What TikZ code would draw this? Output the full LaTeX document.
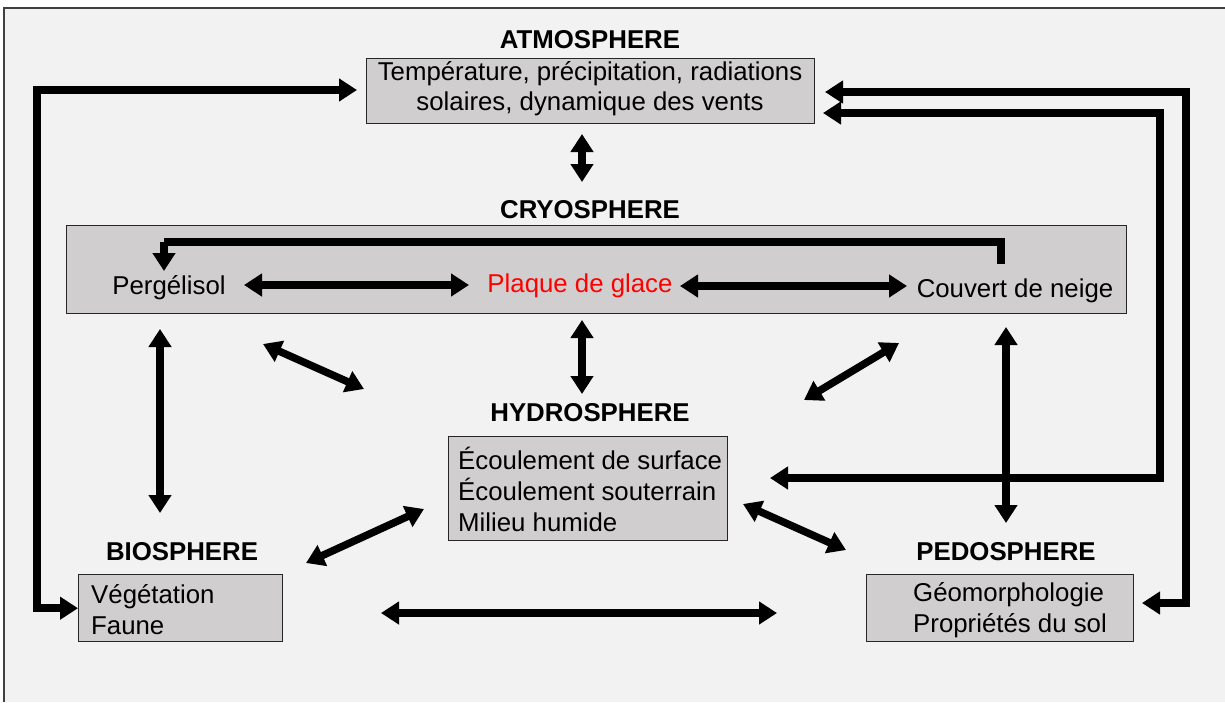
\documentclass[tikz,border=0pt]{standalone}
\usepackage{fontspec}
\setmainfont{Liberation Sans}
\usetikzlibrary{arrows.meta}
\definecolor{bg}{HTML}{F2F2F2}
\definecolor{boxfill}{HTML}{D0CECE}
\begin{document}
\begin{tikzpicture}[x=1pt,y=-1pt,
  box/.style={draw=black!85,line width=1.4pt,fill=boxfill,inner sep=0pt,anchor=north west},
  title/.style={font=\bfseries\fontsize{25.8}{30}\selectfont,inner sep=0pt},
  txt/.style={font=\fontsize{25.8}{31}\selectfont,inner sep=0pt},
  arr/.style={line width=7.5pt,-{Triangle[width=22pt,length=18pt]}},
  darr/.style={line width=7.5pt,{Triangle[width=22pt,length=18pt]}-{Triangle[width=22pt,length=18pt]}}]
\useasboundingbox (0,0) rectangle (1225,702);
\fill[white] (0,0) rectangle (1225,702);
\fill[bg] (4,8) rectangle (1225,702);
\draw[line width=1.5pt,black!75] (4,702) -- (4,8) -- (1225,8);

% titles
\node[title] (tatm) at (590,40) {ATMOSPHERE};
\node[title] (tcry) at (590,210) {CRYOSPHERE};
\node[title] (thyd) at (590,413) {HYDROSPHERE};
\node[title] (tbio) at (182,552) {BIOSPHERE};
\node[title] (tped) at (1006,552) {PEDOSPHERE};

% boxes
\node[box,minimum width=448pt,minimum height=65pt] (atm) at (366,58) {};
\node[txt,align=center,font=\fontsize{25.8}{30}\selectfont] (atmt) at (590,89) {Température, précipitation, radiations\\solaires, dynamique des vents};

\node[box,minimum width=1060pt,minimum height=88pt] (cry) at (66,225) {};
\node[txt] (perg) at (169,288) {Pergélisol};
\node[txt,text=red] (plaq) at (580,286) {Plaque de glace};
\node[txt] (couv) at (1015,291) {Couvert de neige};

\node[box,minimum width=279pt,minimum height=104pt] (hyd) at (448,436) {};
\node[txt,align=left,anchor=west] (hydt) at (458,489) {Écoulement de surface\\Écoulement souterrain\\Milieu humide};

\node[box,minimum width=204pt,minimum height=67pt] (bio) at (78,574) {};
\node[txt,align=left,anchor=west] (biot) at (91,610) {Végétation\\Faune};

\node[box,minimum width=267pt,minimum height=67pt] (ped) at (866,574) {};
\node[txt,align=left,anchor=west] (pedt) at (913,610) {Géomorphologie\\Propriétés du sol};

% coordinates
\coordinate (l) at (37,350);
\coordinate (r1) at (1186,350);
\coordinate (r2) at (1160,300);
\coordinate (ca) at (1001,264);
\coordinate (cb) at (1001,242);
\coordinate (cc) at (164,242);
\coordinate (cd) at (164,271);

% connectors
\draw[darr] (357,90) -| (l) |- (bio.west);
\draw[darr] (825,92) -| (r1) |- (1142,603);
\draw[darr] (823,113) -| (r2) |- (770,478);
\draw[line width=7.5pt,line join=miter] (ca) -- (cb) -- (cc);
\draw[arr] (cc) -- (cd);

\draw[darr] (244,285) -- (469,285);
\draw[darr] (680,286) -- (907,286);
\draw[darr] (582,134) -- (582,182);
\draw[darr] (582,320) -- (582,394);
\draw[darr] (263,344) -- (364,389);
\draw[darr] (899,343) -- (804,400);
\draw[darr] (160,329) -- (160,513);
\draw[darr] (1006,327) -- (1006,523);
\draw[darr] (424,509) -- (306,563);
\draw[darr] (743,504) -- (846,550);
\draw[darr] (381,613) -- (777,613);
\end{tikzpicture}
\end{document}
